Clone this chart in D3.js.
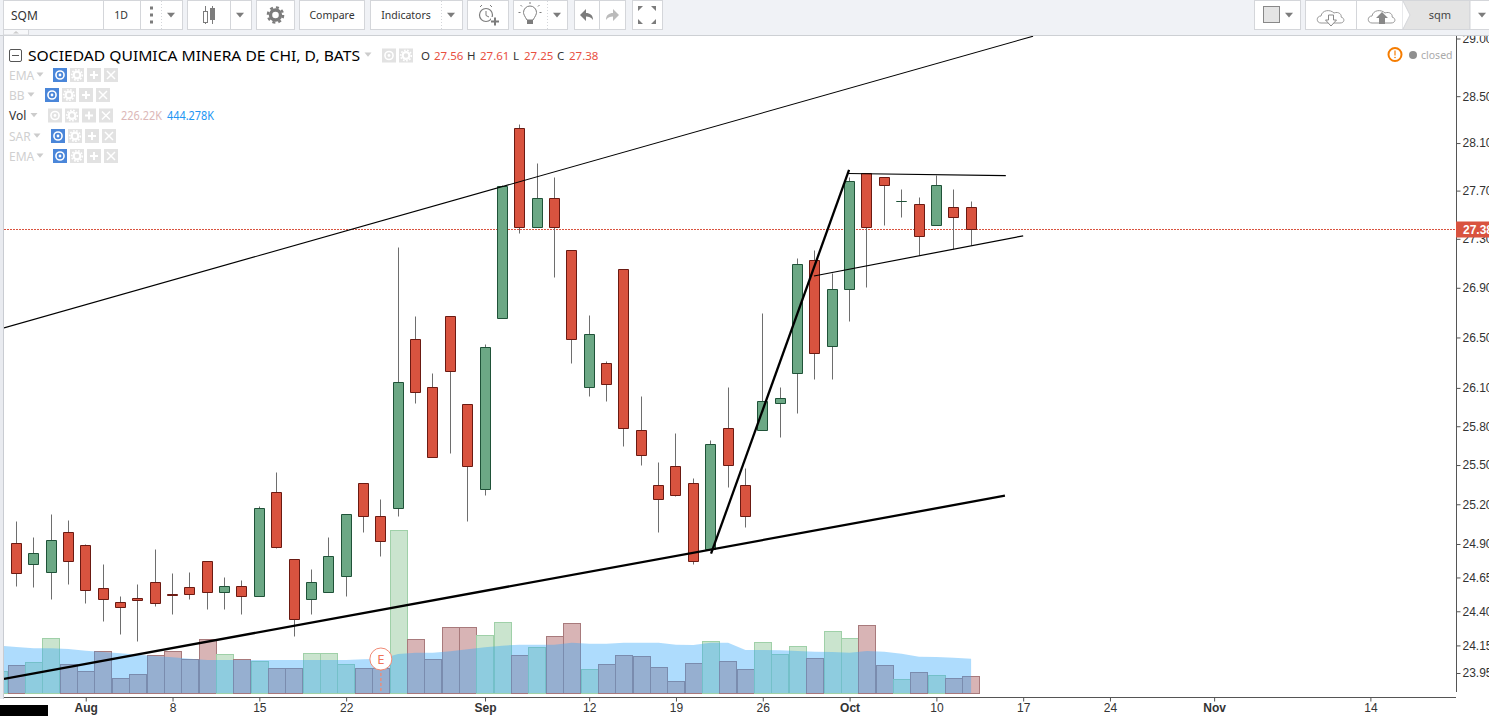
<!DOCTYPE html>
<html>
<head>
<meta charset="utf-8">
<title>SQM</title>
<script src="https://cdn.jsdelivr.net/npm/d3@7"></script>
<style>
  html, body { margin: 0; padding: 0; background: #fff; overflow: hidden; }
  svg { display: block; }
  .ui { font-family: "Noto Sans", sans-serif; }
  .axis text { font-family: "Liberation Sans", Arial, sans-serif; font-size: 12px; fill: #333; }
  .axis line { stroke: #555; }
</style>
</head>
<body>
<div id="chart"></div>
<script>
// one entry per trading day, first bar (Jul 25) is almost fully outside the plot
const opens  = [24.86,24.91,24.75,24.69,24.99,24.89,24.57,24.47,24.5,24.62,24.53,24.58,24.77,24.54,24.59,24.51,25.29,24.79,24.49,24.54,24.66,25.36,25.11,25.17,26.49,26.11,26.67,25.97,25.32,26.66,28.23,27.4,27.64,27.21,26.11,26.3,27.05,25.77,25.35,25.49,25.36,24.86,25.79,25.35,25.77,25.98,26.22,27.13,26.43,26.89,27.85,27.81,27.61,27.59,27.41,27.56,27.56];
const highs  = [24.86,25.07,24.95,25.13,25.08,24.9,24.75,24.51,24.6,24.86,24.68,24.69,24.77,24.65,24.63,25.19,25.45,24.79,24.71,24.95,25.13,25.36,25.24,27.23,26.67,26.22,26.67,25.97,26.45,27.75,28.26,27.93,27.81,27.21,26.68,26.31,27.05,26.04,25.52,25.75,25.4,25.69,26.11,25.48,26.7,26.11,27.14,27.21,27.02,27.81,27.85,27.81,27.71,27.65,27.83,27.71,27.61];
const lows   = [24.86,24.59,24.58,24.49,24.6,24.46,24.33,24.23,24.18,24.44,24.38,24.49,24.42,24.42,24.38,24.51,24.87,24.22,24.38,24.54,24.51,24.99,24.81,25.11,25.98,25.56,25.59,25.07,25.27,26.66,27.35,27.4,26.99,26.3,26.04,26,25.65,25.5,24.99,25.26,24.75,24.86,25.33,25.03,25.77,25.72,25.9,26.17,26.17,26.63,26.91,27.41,27.48,27.17,27.41,27.22,27.25];
const closes = [24.86,24.68,24.83,24.93,24.77,24.56,24.49,24.43,24.48,24.46,24.52,24.53,24.54,24.59,24.51,25.17,24.88,24.34,24.62,24.81,25.13,25.11,24.92,26.15,26.07,25.56,26.23,25.49,26.42,27.74,27.4,27.64,27.4,26.49,26.53,26.13,25.79,25.58,25.24,25.27,24.77,25.66,25.5,25.11,26,26.02,27.09,26.38,26.89,27.78,27.4,27.75,27.61,27.32,27.75,27.48,27.38];
const volumes = [294,375,416,742,389,294,566,199,253,511,566,457,728,525,457,430,335,335,538,538,389,335,335,2208,728,457,891,891,783,959,511,620,769,946,321,389,511,498,348,158,403,701,430,321,688,525,633,470,837,742,918,375,185,280,240,199,226.22];
const volumeMA = [642,624,606,606,597,575,556,538,520,502,484,466,448,448,448,448,448,448,448,448,448,457,466,529,547,547,566,593,620,642,656,656,656,683,670,670,683,683,683,656,651,683,683,584,584,579,570,561,556,547,570,561,534,493,489,480,466];

const yTicks = [29,28.5,28.1,27.7,27.3,26.9,26.5,26.1,25.8,25.5,25.2,24.9,24.65,24.4,24.15,23.95];
const xTickBars = [5,10,15,20,28,34,39,44,49,54,59,64,70,79];
const xTickLabels = ['Aug','8','15','22','Sep','12','19','26','Oct','10','17','24','Nov','14'];
const monthLabels = ['Aug','Sep','Oct','Nov'];

const lastPrice = 27.38;
const earningsBar = 22;

// hand drawn lines: [bar, price, bar, price, stroke width]
const trendLines = [
  [0.29,26.577,59.57,29.02,1.1],
  [0.29,23.908,57.95,25.265,2.3],
  [41.02,24.827,48.97,27.874,2.3],
  [46.95,26.996,59,27.325,1.2],
  [48.91,27.843,58,27.826,1.2]
];

const W = 1489, H = 716, plotL = 4, plotR = 1456, plotT = 36, plotB = 697, volBase = 693;
const RED = '#d9533f', RED_D = '#6b1a12', GREEN = '#6ca885', GREEN_D = '#1f5238';

const x = d3.scaleLinear().domain([0, 79]).range([-1.06, -1.06 + 79 * 17.36]);
const y = d3.scaleLog().domain([23.95, 29]).range([673, 38.5]);
const v = d3.scaleLinear().domain([0, 2208]).range([volBase, 530.3]);
const px = b => Math.floor(x(b)) + 0.5;
const py = p => Math.round(y(p)) + 0.5;

const svg = d3.select('#chart').append('svg').attr('width', W).attr('height', H);
svg.append('rect').attr('width', W).attr('height', H).attr('fill', '#fff');
svg.append('defs').append('clipPath').attr('id', 'plot').append('rect')
  .attr('x', plotL).attr('y', plotT).attr('width', plotR - plotL).attr('height', plotB - plotT);

const bars = d3.range(opens.length);
const up = i => closes[i] >= opens[i];
const plot = svg.append('g').attr('clip-path', 'url(#plot)');

// volume
plot.append('g').selectAll('rect').data(bars).join('rect')
  .attr('x', i => Math.round(x(i) - 8.68) + 0.5)
  .attr('width', 17)
  .attr('y', i => Math.round(v(volumes[i])) + 0.5)
  .attr('height', i => volBase - Math.round(v(volumes[i])))
  .attr('fill', i => up(i) ? 'rgba(104,177,115,0.35)' : 'rgba(144,41,44,0.35)')
  .attr('stroke', i => up(i) ? '#9fd0a8' : '#a87a7c');

const maArea = d3.area().x((d, i) => x(i)).y0(volBase).y1(d => v(d));
plot.append('path').attr('d', maArea(volumeMA)).attr('fill', 'rgba(52,167,250,0.4)');

// current price line
plot.append('line').attr('x1', plotL).attr('x2', plotR).attr('y1', py(lastPrice)).attr('y2', py(lastPrice))
  .attr('stroke', RED).attr('stroke-dasharray', '2,1');

// candles
const candles = plot.append('g').selectAll('g').data(bars).join('g');
candles.append('line')
  .attr('x1', px).attr('x2', px)
  .attr('y1', i => py(highs[i])).attr('y2', i => py(lows[i]))
  .attr('stroke', '#6e6e6e');
// path, not rect: a flat body (open = close) still has to show its stroke
candles.append('path')
  .attr('d', i => {
    const top = py(Math.max(opens[i], closes[i])), bot = py(Math.min(opens[i], closes[i]));
    return `M${px(i) - 5},${top}H${px(i) + 5}V${bot}H${px(i) - 5}Z`;
  })
  .attr('fill', i => up(i) ? GREEN : RED)
  .attr('stroke', i => up(i) ? GREEN_D : RED_D);

// earnings marker
const ex = x(earningsBar);
plot.append('line').attr('x1', ex).attr('x2', ex).attr('y1', 668).attr('y2', volBase)
  .attr('stroke', '#e58f80').attr('stroke-width', 1.5).attr('stroke-dasharray', '3,2');
plot.append('circle').attr('cx', ex).attr('cy', 659).attr('r', 11)
  .attr('fill', '#fff').attr('stroke', '#f08a75');
plot.append('text').attr('class', 'ui').attr('x', ex).attr('y', 664).attr('text-anchor', 'middle')
  .attr('font-size', 13).attr('fill', '#f0735a').text('E');

// trend lines
plot.append('g').selectAll('line').data(trendLines).join('line')
  .attr('x1', d => x(d[0])).attr('y1', d => y(d[1]))
  .attr('x2', d => x(d[2])).attr('y2', d => y(d[3]))
  .attr('stroke', '#000').attr('stroke-width', d => d[4]);

// axes
const xAxis = svg.append('g').attr('class', 'axis').attr('transform', `translate(0,${plotB + 0.5})`)
  .call(d3.axisBottom(x).tickValues(xTickBars).tickFormat((d, i) => xTickLabels[i]).tickSize(4).tickPadding(2));
xAxis.select('.domain').remove();
xAxis.selectAll('text').attr('font-weight', (d, i) => monthLabels.includes(xTickLabels[i]) ? 700 : 400);
svg.append('line').attr('x1', plotL).attr('x2', plotR).attr('y1', plotB + 0.5).attr('y2', plotB + 0.5).attr('stroke', '#555');

const yAxis = svg.append('g').attr('class', 'axis').attr('transform', `translate(${plotR + 0.5},0)`)
  .call(d3.axisRight(y).tickValues(yTicks).tickFormat(d3.format('.2f')).tickSize(4).tickPadding(2));
yAxis.select('.domain').remove();
svg.append('line').attr('x1', plotR + 0.5).attr('x2', plotR + 0.5).attr('y1', plotT).attr('y2', 692).attr('stroke', '#555');

// price tag
svg.append('rect').attr('x', plotR).attr('y', py(lastPrice) - 8).attr('width', W - plotR).attr('height', 16).attr('fill', RED);
svg.append('text').attr('x', 1463).attr('y', py(lastPrice) + 4)
  .attr('font-family', '"Liberation Sans", Arial, sans-serif').attr('font-size', 12).attr('font-weight', 700).attr('fill', '#fff')
  .text(d3.format('.2f')(lastPrice));

// left edge + stray box at the bottom
svg.append('rect').attr('x', 0).attr('y', plotT).attr('width', 3).attr('height', plotB - plotT + 2).attr('fill', '#e9ebf0');
svg.append('line').attr('x1', 3.5).attr('x2', 3.5).attr('y1', plotT).attr('y2', plotB + 2).attr('stroke', '#c9ccd2');
svg.append('rect').attr('x', 0).attr('y', 705).attr('width', 48).attr('height', 11).attr('fill', '#000');

// ---- legend ----
const legend = svg.append('g').attr('class', 'ui');
const txt = (g, tx, ty, s, size, fill, extra) => {
  const t = g.append('text').attr('x', tx).attr('y', ty).attr('font-size', size).attr('fill', fill).text(s);
  if (extra) t.attr('text-anchor', extra);
  return t;
};
const tri = (g, cx, cy, w, col) => g.append('path')
  .attr('d', `M${cx - w},${cy - w * 0.55}L${cx + w},${cy - w * 0.55}L${cx},${cy + w * 0.65}Z`).attr('fill', col);

function iconSquare(g, ix, iy, size, kind, active) {
  const cx = ix + size / 2, cy = iy + size / 2;
  g.append('rect').attr('x', ix).attr('y', iy).attr('width', size).attr('height', size)
    .attr('fill', kind === 'eye' && active ? '#4a86d9' : '#e2e2e2');
  if (kind === 'eye') {
    g.append('circle').attr('cx', cx).attr('cy', cy).attr('r', size * 0.29).attr('fill', 'none')
      .attr('stroke', '#fff').attr('stroke-width', 1.6);
    g.append('circle').attr('cx', cx).attr('cy', cy).attr('r', 1.4).attr('fill', '#fff');
  } else if (kind === 'gear') {
    g.append('circle').attr('cx', cx).attr('cy', cy).attr('r', size * 0.24).attr('fill', 'none')
      .attr('stroke', '#fff').attr('stroke-width', 2.2);
    g.append('circle').attr('cx', cx).attr('cy', cy).attr('r', size * 0.38).attr('fill', 'none')
      .attr('stroke', '#fff').attr('stroke-width', 1.6).attr('stroke-dasharray', '1.6,1.6');
  } else if (kind === 'plus') {
    g.append('path').attr('d', `M${cx - 4},${cy}H${cx + 4}M${cx},${cy - 4}V${cy + 4}`).attr('stroke', '#fff').attr('stroke-width', 2);
  } else {
    g.append('path').attr('d', `M${cx - 4},${cy - 4}L${cx + 4},${cy + 4}M${cx + 4},${cy - 4}L${cx - 4},${cy + 4}`).attr('stroke', '#fff').attr('stroke-width', 1.5);
  }
}

legend.append('rect').attr('x', 9.5).attr('y', 49.5).attr('width', 12).attr('height', 12).attr('rx', 1.5)
  .attr('fill', '#fff').attr('stroke', '#555');
legend.append('line').attr('x1', 12).attr('x2', 19).attr('y1', 55.5).attr('y2', 55.5).attr('stroke', '#555');
txt(legend, 28, 60.5, 'SOCIEDAD QUIMICA MINERA DE CHI, D, BATS', 15, '#000')
  .attr('textLength', 332).attr('lengthAdjust', 'spacingAndGlyphs');
tri(legend, 368, 54.5, 3.5, '#ccc');
iconSquare(legend, 382, 48.5, 14, 'eye', false);
iconSquare(legend, 399, 48.5, 14, 'gear', false);

const ohlcLabels = ['O', 'H', 'L', 'C'];
const ohlcLabelX = [421, 467, 513, 557];
const ohlcValueX = [434, 480, 524, 569];
const lastIdx = opens.length - 1;
[opens, highs, lows, closes].forEach((arr, k) => {
  txt(legend, ohlcLabelX[k], 59.5, ohlcLabels[k], 11.5, '#333');
  txt(legend, ohlcValueX[k], 59.5, d3.format('.2f')(arr[lastIdx]), 11.5, '#e8503f');
});

const rowNames = ['EMA', 'BB', 'Vol', 'SAR', 'EMA'];
const rowY = [75, 95, 115.5, 136, 156];
const rowArrowX = [40, 31, 34, 37, 40];
const rowIconX = [53, 45, 48, 51, 53];
rowNames.forEach((name, r) => {
  const on = name !== 'Vol';
  txt(legend, 9, rowY[r] + 4.5, name, 12, on ? '#d0d0d0' : '#333');
  tri(legend, rowArrowX[r], rowY[r] - 0.5, 3.5, '#ccc');
  ['eye', 'gear', 'plus', 'x'].forEach((k, j) => iconSquare(legend, rowIconX[r] + j * 17, rowY[r] - 7, 14, k, on));
});
txt(legend, 121, 120, '226.22K', 12, '#dcb8b8').attr('textLength', 41).attr('lengthAdjust', 'spacingAndGlyphs');
txt(legend, 167, 120, '444.278K', 12, '#2196f3').attr('textLength', 47).attr('lengthAdjust', 'spacingAndGlyphs');

// market status
legend.append('circle').attr('cx', 1395).attr('cy', 54.5).attr('r', 6.5).attr('fill', 'none').attr('stroke', '#f57c00').attr('stroke-width', 2);
legend.append('line').attr('x1', 1395).attr('x2', 1395).attr('y1', 50.5).attr('y2', 55.5).attr('stroke', '#f57c00').attr('stroke-width', 1.2);
legend.append('circle').attr('cx', 1395).attr('cy', 57.5).attr('r', 0.8).attr('fill', '#f57c00');
legend.append('circle').attr('cx', 1413).attr('cy', 55).attr('r', 4).attr('fill', '#8f8f8f');
txt(legend, 1421, 58.5, 'closed', 10.5, '#aaa');

// ---- toolbar ----
const bar = svg.append('g').attr('class', 'ui');
bar.append('rect').attr('width', W).attr('height', 35).attr('fill', '#f0f2f6');
bar.append('line').attr('x1', 0).attr('x2', W).attr('y1', 35.5).attr('y2', 35.5).attr('stroke', '#cdd0d4');
bar.append('rect').attr('x', 3.5).attr('y', 29.5).attr('width', 25).attr('height', 5.5).attr('fill', '#f7f8fa').attr('stroke', '#d5d7db');
bar.append('path').attr('d', 'M13,33.5L16,31L19,33.5Z').attr('fill', '#ccc');

const btn = (x0, x1) => bar.append('rect').attr('x', x0 + 0.5).attr('y', 0.5).attr('width', x1 - x0 - 1).attr('height', 29)
  .attr('fill', '#fff').attr('stroke', '#d4d6da');
const sep = (sx, dotted) => bar.append('line').attr('x1', sx + 0.5).attr('x2', sx + 0.5).attr('y1', 1).attr('y2', 29)
  .attr('stroke', '#d4d6da').attr('stroke-dasharray', dotted ? '1,2' : null);
const GRAY = '#7c7c7c';

btn(3, 183); sep(103); sep(140); sep(161, true);
txt(bar, 11, 19.5, 'SQM', 12, '#333');
txt(bar, 121, 19, '1D', 10.5, '#333', 'middle');
[8, 15, 22].forEach(dy => bar.append('rect').attr('x', 150).attr('y', dy - 1.5).attr('width', 3).attr('height', 3).attr('fill', GRAY));
tri(bar, 171, 15, 4, GRAY);

btn(187, 252); sep(230);
bar.append('path').attr('d', 'M205.5,6V24').attr('stroke', GRAY);
bar.append('rect').attr('x', 203.5).attr('y', 11.5).attr('width', 4).attr('height', 11).attr('fill', '#fff').attr('stroke', GRAY);
bar.append('path').attr('d', 'M212.5,6V24').attr('stroke', GRAY);
bar.append('rect').attr('x', 210.5).attr('y', 8.5).attr('width', 4).attr('height', 11).attr('fill', GRAY).attr('stroke', GRAY);
tri(bar, 240, 15, 4, GRAY);

btn(256, 295);
bar.append('circle').attr('cx', 275.5).attr('cy', 15).attr('r', 5).attr('fill', 'none').attr('stroke', GRAY).attr('stroke-width', 3.4);
bar.append('circle').attr('cx', 275.5).attr('cy', 15).attr('r', 7.6).attr('fill', 'none').attr('stroke', GRAY).attr('stroke-width', 2.4).attr('stroke-dasharray', '3,3');

btn(299, 365);
txt(bar, 332, 19, 'Compare', 10.5, '#333', 'middle');

btn(370, 463); sep(441, true);
txt(bar, 406, 19, 'Indicators', 10.5, '#333', 'middle');
tri(bar, 451, 15, 4, GRAY);

btn(467, 509);
bar.append('circle').attr('cx', 486).attr('cy', 15).attr('r', 6.5).attr('fill', 'none').attr('stroke', GRAY).attr('stroke-width', 1.2);
bar.append('path').attr('d', 'M486,11V15.5L489,17M480,7L482,5M492,7L490,5').attr('fill', 'none').attr('stroke', GRAY);
bar.append('rect').attr('x', 491).attr('y', 17).attr('width', 9).attr('height', 9).attr('fill', '#fff');
bar.append('path').attr('d', 'M491,21.5H499M495,17.5V25.5').attr('stroke', GRAY).attr('stroke-width', 2);

btn(513, 568); sep(547, true);
bar.append('path').attr('d', 'M527,20C524.5,16 523.5,14 523.5,12.5A6.5,6.5 0 0 1 536.5,12.5C536.5,14 535.5,16 533,20Z').attr('fill', '#fff').attr('stroke', GRAY);
bar.append('rect').attr('x', 527).attr('y', 20).attr('width', 6).attr('height', 4).attr('fill', GRAY);
bar.append('path').attr('d', 'M530,2V4M520.5,5L522,6.5M539.5,5L538,6.5M518.5,12.5H520.5M539.5,12.5H541.5').attr('stroke', GRAY);
tri(bar, 557, 15, 4, GRAY);

btn(574, 626); sep(599);
bar.append('path').attr('d', 'M580,15L586,9V13C590,13 593,15 593,20C591,17 589,16.5 586,16.5V21Z').attr('fill', GRAY);
bar.append('path').attr('d', 'M619,15L613,9V13C609,13 606,15 606,20C608,17 610,16.5 613,16.5V21Z').attr('fill', '#bbb');

btn(632, 663);
bar.append('path').attr('d', 'M638,6L643,6L638,11ZM656,6L651,6L656,11ZM638,24L643,24L638,19ZM656,24L651,24L656,19Z').attr('fill', GRAY);

// right hand side
btn(1254, 1301);
bar.append('rect').attr('x', 1263.5).attr('y', 6.5).attr('width', 16).attr('height', 16).attr('fill', '#e4e4e4').attr('stroke', '#888');
tri(bar, 1289, 15, 4, GRAY);

function cloud(cx) {
  bar.append('path')
    .attr('d', `M${cx - 10},23C${cx - 15},23 ${cx - 15},16 ${cx - 10},16C${cx - 9},10 ${cx - 1},9 ${cx + 3},13C${cx + 8},11 ${cx + 11},15 ${cx + 10},17C${cx + 14},18 ${cx + 14},23 ${cx + 9},23Z`)
    .attr('fill', '#fff').attr('stroke', '#999');
  return cx;
}
btn(1305, 1404); sep(1356);
let cc = cloud(1331);
bar.append('path').attr('d', `M${cc - 2.5},15V20H${cc - 5.5}L${cc},26L${cc + 5.5},20H${cc + 2.5}V15Z`).attr('fill', '#fff').attr('stroke', '#888');
cc = cloud(1382);
bar.append('path').attr('d', `M${cc - 3},24V18H${cc - 6}L${cc},12L${cc + 6},18H${cc + 3}V24Z`).attr('fill', '#888');
bar.append('rect').attr('x', 1403).attr('y', 0.5).attr('width', 67).attr('height', 29).attr('fill', '#e4e4e4').attr('stroke', '#d4d6da');
bar.append('path').attr('d', 'M1403,1L1410,15L1403,29').attr('fill', '#fff').attr('stroke', '#d4d6da');
txt(bar, 1440, 19, 'sqm', 11, '#444', 'middle');
bar.append('rect').attr('x', 1470).attr('y', 0.5).attr('width', 20).attr('height', 29).attr('fill', '#fff').attr('stroke', '#d4d6da');
tri(bar, 1482, 15, 4, GRAY);
</script>
</body>
</html>
